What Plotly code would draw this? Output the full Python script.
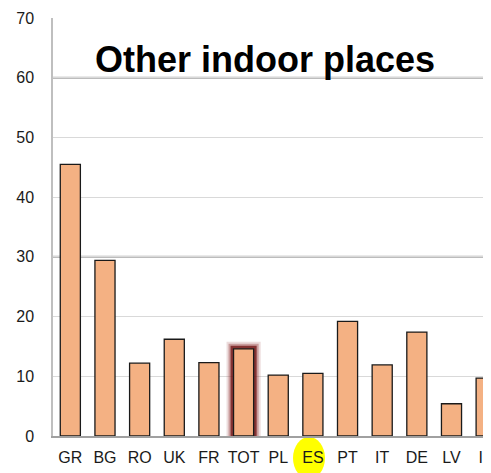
import plotly.graph_objects as go

categories = ["GR", "BG", "RO", "UK", "FR", "TOT", "PL", "ES", "PT", "IT", "DE", "LV", "IE"]
values = [45.5, 29.4, 12.2, 16.2, 12.3, 14.6, 10.2, 10.5, 19.2, 11.9, 17.4, 5.4, 9.7]
highlight_cat = "TOT"
highlight_val = values[categories.index(highlight_cat)]
y_ticks = [0, 10, 20, 30, 40, 50, 60, 70]
title_text = "Other indoor places"

# page body has an 8px margin; figure is sized to fill the visible window
OFF = 8
W, H = 491 - OFF, 473 - OFF
ml, mt, mb = 53 - OFF, 18 - OFF, 37
pw = W - ml
ph = H - mt - mb

bar_color = "#F4B183"
bw = 0.58

fig = go.Figure()
# soft glow around TOT bar (layered translucent outlines)
for lw, col in [(14, "rgba(150,60,60,0.18)"), (10, "rgba(140,40,40,0.35)"), (6, "rgba(110,15,15,0.75)")]:
    fig.add_trace(go.Bar(x=[highlight_cat], y=[highlight_val], width=bw,
                         marker=dict(color="rgba(0,0,0,0)", line=dict(color=col, width=lw)),
                         hoverinfo="skip", showlegend=False))
fig.add_trace(go.Bar(x=categories, y=values, width=bw,
                     marker=dict(color=bar_color, line=dict(color="#1a1a1a", width=1.3)),
                     showlegend=False))

shapes = []
# darker gridlines at 30 and 60
for yv in (30, 60):
    shapes.append(dict(type="line", xref="paper", yref="y", x0=0, x1=1, y0=yv, y1=yv,
                       line=dict(color="#a6a6a6", width=2), layer="below"))

def px_to_paper_x(px):
    return (px - OFF - ml) / pw

def py_to_paper_y(py):
    return (H + OFF - mb - py) / ph

# yellow highlight ellipse behind ES label
shapes.append(dict(type="circle", xref="paper", yref="paper",
                   x0=px_to_paper_x(293), x1=px_to_paper_x(325),
                   y0=py_to_paper_y(479), y1=py_to_paper_y(437),
                   fillcolor="#FFFF00", line=dict(width=0), layer="below"))

fig.update_layout(
    width=W, height=H,
    margin=dict(l=ml, r=0, t=mt, b=mb, pad=0),
    paper_bgcolor="white", plot_bgcolor="rgba(0,0,0,0)",
    barmode="overlay",
    font=dict(family="Liberation Sans, Arial, sans-serif", size=15, color="#1a1a1a"),
    shapes=shapes,
    annotations=[dict(text="<b>" + title_text + "</b>", xref="paper", yref="paper",
                      x=px_to_paper_x(265), y=py_to_paper_y(60), xanchor="center", yanchor="middle",
                      showarrow=False, font=dict(size=36, color="black",
                                                 family="Liberation Sans, Arial, sans-serif"))],
)
fig.update_xaxes(type="category", categoryorder="array", categoryarray=categories,
                 range=[-0.5, 12.14], showgrid=False, showline=True, linecolor="#a0a0a0",
                 linewidth=2, ticks="", tickfont=dict(size=16, color="#1a1a1a"),
                 ticklabelstandoff=6, automargin=False)
fig.update_yaxes(range=[0, 70], tickvals=y_ticks, showgrid=True, gridcolor="#d9d9d9",
                 gridwidth=1, zeroline=False, showline=True, linecolor="#bfbfbf", linewidth=1.5,
                 ticks="", tickfont=dict(size=16, color="#1a1a1a"), ticklabelstandoff=14,
                 automargin=False)

fig.write_html("out.html")
